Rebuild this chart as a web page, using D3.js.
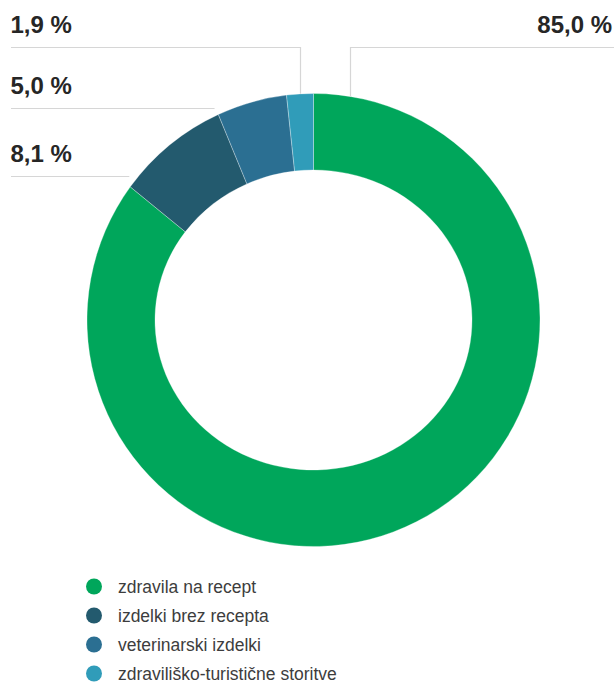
<!DOCTYPE html>
<html>
<head>
<meta charset="utf-8">
<script src="https://cdn.jsdelivr.net/npm/d3@7/dist/d3.min.js"></script>
<style>
  html, body { margin: 0; padding: 0; background: #fff; }
  svg { display: block; }
</style>
</head>
<body>
<svg id="chart" width="614" height="682"></svg>
<script>
// ---- data ----
const categories = ["zdravila na recept", "izdelki brez recepta", "veterinarski izdelki", "zdraviliško-turistične storitve"];
const values = [85.0, 8.1, 5.0, 1.9];
const valueLabels = ["85,0 %", "8,1 %", "5,0 %", "1,9 %"];
const colors = ["#00a65b", "#235a6e", "#2b6f92", "#309cb9"];

// ---- layout ----
const W = 614, H = 682;
const cx = 313.5, cy = 320;
const R = 226.5;          // outer radius
const rx = 158.5, ry = 150; // inner hole (slightly elliptical in reference)

const svg = d3.select("#chart");

const pie = d3.pie().sort(null).value(d => d.value);
const data = categories.map((c, i) => ({ name: c, value: values[i], label: valueLabels[i], color: colors[i] }));
const arcs = pie(data);

function slicePath(a0, a1) {
  const large = (a1 - a0) > Math.PI ? 1 : 0;
  const ox0 = cx + R * Math.sin(a0), oy0 = cy - R * Math.cos(a0);
  const ox1 = cx + R * Math.sin(a1), oy1 = cy - R * Math.cos(a1);
  const ix0 = cx + rx * Math.sin(a0), iy0 = cy - ry * Math.cos(a0);
  const ix1 = cx + rx * Math.sin(a1), iy1 = cy - ry * Math.cos(a1);
  return `M${ox0},${oy0}A${R},${R} 0 ${large} 1 ${ox1},${oy1}L${ix1},${iy1}A${rx},${ry} 0 ${large} 0 ${ix0},${iy0}Z`;
}

svg.append("g").selectAll("path")
  .data(arcs)
  .join("path")
  .attr("d", d => slicePath(d.startAngle, d.endAngle))
  .attr("fill", d => d.data.color)
  .attr("stroke", "#ffffff")
  .attr("stroke-opacity", 0.5)
  .attr("stroke-width", 0.6);

// ---- leader lines and value labels ----
const lineColor = "#d6d6d6";
const leftX = 11;
const labelFont = "'Liberation Sans', Arial, Helvetica, sans-serif";
const g = svg.append("g");

function outerXAt(y, rad) { const dy = cy - y; return cx - Math.sqrt(rad * rad - dy * dy); }
function outerYAt(x, rad) { const dx = x - cx; return cy - Math.sqrt(rad * rad - dx * dx); }

const topLineY = 47.5;
// 85,0 % (green): vertical line from arc to top line, then right
const greenX = 350.5;
g.append("path")
  .attr("d", `M${greenX},${outerYAt(greenX, R)}V${topLineY}H${W}`)
  .attr("fill", "none").attr("stroke", lineColor).attr("stroke-width", 1.2);
g.append("text").attr("x", 612).attr("y", topLineY - 14.5)
  .attr("text-anchor", "end").text(arcs[0].data.label);

// 1,9 % (light blue): vertical line from arc to top line, then left
const lightX = 300.5;
g.append("path")
  .attr("d", `M${lightX},${outerYAt(lightX, R)}V${topLineY}H${leftX}`)
  .attr("fill", "none").attr("stroke", lineColor).attr("stroke-width", 1.2);
g.append("text").attr("x", 10.5).attr("y", topLineY - 14.5).text(arcs[3].data.label);

// 5,0 % and 8,1 %: horizontal lines
[[2, 108.5], [1, 176.5]].forEach(([i, ly]) => {
  g.append("path")
    .attr("d", `M${leftX},${ly}H${outerXAt(ly, R + 7)}`)
    .attr("fill", "none").attr("stroke", lineColor).attr("stroke-width", 1.2);
  g.append("text").attr("x", 10.5).attr("y", ly - 14.5).text(arcs[i].data.label);
});

g.selectAll("text")
  .attr("font-family", labelFont)
  .attr("font-weight", "bold")
  .attr("font-size", 24)
  .attr("fill", "#262626");

// ---- legend ----
const legendY = d3.scalePoint().domain(categories).range([586.5, 673.5]);
const legend = svg.append("g").selectAll("g")
  .data(data)
  .join("g")
  .attr("transform", d => `translate(0,${legendY(d.name)})`);
legend.append("circle")
  .attr("cx", 94).attr("cy", 0).attr("r", 8)
  .attr("fill", d => d.color);
legend.append("text")
  .attr("x", 118).attr("y", 6)
  .attr("font-family", labelFont)
  .attr("font-size", 17.5)
  .attr("fill", "#3d3d3d")
  .text(d => d.name);
</script>
</body>
</html>
